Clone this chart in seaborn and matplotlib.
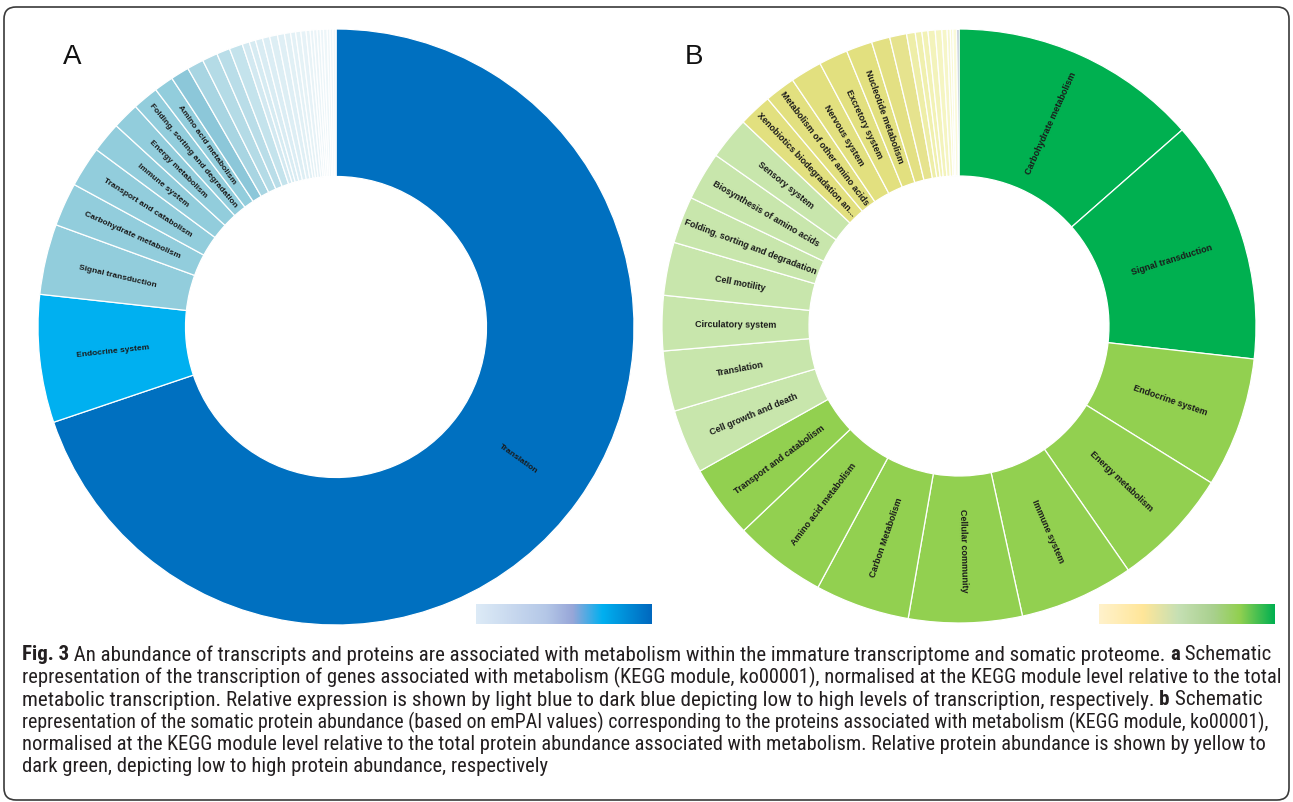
import numpy as np
import pandas as pd
import matplotlib
matplotlib.use("Agg")
import matplotlib.pyplot as plt
import seaborn as sns
from matplotlib.colors import LinearSegmentedColormap
from matplotlib.patches import FancyBboxPatch
from matplotlib.transforms import IdentityTransform
from matplotlib import font_manager

# ---------------- data ----------------
a_categories = ["Translation", "Endocrine system", "Signal transduction",
                "Carbohydrate metabolism", "Transport and catabolism",
                "Immune system", "Energy metabolism",
                "Folding, sorting and degradation", "Amino acid metabolism"] + [""] * 24
a_values = [69.5, 6.9, 3.8, 2.35, 2.2, 1.65, 1.45, 1.4, 1.05,
            1.0, 0.9, 0.83, 0.72, 0.72, 0.39, 0.34, 0.39, 0.39, 0.42, 0.38,
            0.33, 0.27, 0.28, 0.28, 0.22, 0.18, 0.19, 0.17, 0.17, 0.2, 0.15, 0.16, 0.16]
a_colors = ["#0070C0", "#00B0F0"] + ["#92CDDC"] * 7 + \
           ["#8CC7D9", "#A8D5E2", "#B4DBE6", "#B9DDE8", "#C4E3EC"] + \
           ["#D3E9F1", "#D6EBF2", "#D9ECF3", "#DBEDF4", "#DDEEF4", "#DFEFF5",
            "#E1F0F5", "#E3F1F6", "#E5F2F6", "#E6F2F7", "#E8F3F7", "#E9F4F8",
            "#EAF4F8", "#EBF5F8", "#ECF5F9", "#EDF6F9", "#EEF6F9", "#EFF7FA", "#F0F7FA"]

b_categories = ["Carbohydrate metabolism", "Signal transduction", "Endocrine system",
                "Energy metabolism", "Immune system", "Cellular community",
                "Carbon Metabolism", "Amino acid metabolism", "Transport and catabolism",
                "Cell growth and death", "Translation", "Circulatory system",
                "Cell motility", "Folding, sorting and degradation",
                "Biosynthesis of amino acids", "Sensory system",
                "Xenobiotics biodegradation an...", "Metabolism of other amino acids",
                "Nervous system", "Excretory system", "Nucleotide metabolism"] + [""] * 12
b_values = [13.53, 13.25, 7.08, 6.5, 6.22, 6.17, 5.14, 5.03, 3.97, 3.5, 3.28, 3.0,
            2.89, 2.56, 2.64, 2.31, 1.81, 1.67, 1.72, 1.58, 1.42, 1.0, 0.92,
            0.47, 0.36, 0.33, 0.39, 0.36, 0.28, 0.17, 0.14, 0.22, 0.11]
b_colors = ["#00B050"] * 2 + ["#92D050"] * 7 + ["#C8E6AC"] * 7 + ["#E2E07F"] * 5 + \
           ["#E3E083", "#E6E38E", "#EEEEA8", "#F0F0AE", "#F2F2B5", "#F3F3BB",
            "#F5F5C2", "#F6F6C8", "#F7F7CE", "#F8F8D3", "#FAFAD9", "#8497B0"]

cbar_a_colors = ["#DDEBF7", "#B4C7E7", "#97A6D8", "#00B0F0", "#0068BE"]
cbar_a_stops = [0.0, 0.4, 0.55, 0.72, 1.0]
cbar_b_colors = ["#FFF2CC", "#FFE699", "#C6E0B4", "#A9D08E", "#92D050", "#00B050"]
cbar_b_stops = [0.0, 0.25, 0.45, 0.65, 0.8, 1.0]

caption_lines = [
    [("Fig. 3", True), (" An abundance of transcripts and proteins are associated with metabolism within the immature transcriptome and somatic proteome. ", False), ("a", True), (" Schematic", False)],
    [("representation of the transcription of genes associated with metabolism (KEGG module, ko00001), normalised at the KEGG module level relative to the total", False)],
    [("metabolic transcription. Relative expression is shown by light blue to dark blue depicting low to high levels of transcription, respectively. ", False), ("b", True), (" Schematic", False)],
    [("representation of the somatic protein abundance (based on emPAI values) corresponding to the proteins associated with metabolism (KEGG module, ko00001),", False)],
    [("normalised at the KEGG module level relative to the total protein abundance associated with metabolism. Relative protein abundance is shown by yellow to", False)],
    [("dark green, depicting low to high protein abundance, respectively", False)],
]
caption_widths = [1245, 1243, 1229, 1244, 1232, 523]

# ---------------- style ----------------
sns.set_theme(style="white")
plt.rcParams["font.family"] = ["Liberation Sans", "DejaVu Sans"]

W, H = 1293, 803
fig = plt.figure(figsize=(W / 100, H / 100), dpi=100)
fig.patch.set_facecolor("white")


def px_axes(cx, cy, r):
    return fig.add_axes([(cx - r) / W, (H - cy - r) / H, 2 * r / W, 2 * r / H])


def donut(ax, df, colors, label_fs):
    pal = sns.color_palette(colors)
    wedges, _ = ax.pie(df["value"], colors=pal, startangle=90, counterclock=False,
                       radius=1.0,
                       wedgeprops=dict(width=0.495, edgecolor="white", linewidth=0.9))
    for w, name in zip(wedges, df["category"]):
        if not name:
            continue
        mid = 0.5 * (w.theta1 + w.theta2)
        mid = (mid + 180) % 360 - 180
        r = 0.752
        x, y = r * np.cos(np.deg2rad(mid)), r * np.sin(np.deg2rad(mid))
        rot = mid
        if rot > 90:
            rot -= 180
        elif rot < -90:
            rot += 180
        ax.text(x, y, name, rotation=rot, rotation_mode="anchor", ha="center",
                va="center", fontsize=label_fs, fontweight="bold", color="#1a1a1a")
    ax.set_xlim(-1, 1)
    ax.set_ylim(-1, 1)
    ax.set_aspect("equal")
    ax.axis("off")


df_a = pd.DataFrame({"category": a_categories, "value": a_values})
df_b = pd.DataFrame({"category": b_categories, "value": b_values})

ax_a = px_axes(336, 328, 298)
donut(ax_a, df_a, a_colors, 6.0)
ax_b = px_axes(959, 327, 297)
donut(ax_b, df_b, b_colors, 6.5)

fig.text(63 / W, 1 - 57 / H, "A", fontsize=20, va="center", ha="left", color="#111111")
fig.text(685 / W, 1 - 57 / H, "B", fontsize=20, va="center", ha="left", color="#111111")

# ---------------- colour bars ----------------
def gradient_bar(x0, colors, stops):
    cax = fig.add_axes([x0 / W, (H - 625) / H, 176 / W, 20 / H])
    cmap = LinearSegmentedColormap.from_list("g", list(zip(stops, colors)))
    cax.imshow(np.linspace(0, 1, 256)[None, :], aspect="auto", cmap=cmap,
               extent=[0, 1, 0, 1])
    cax.axis("off")

gradient_bar(476, cbar_a_colors, cbar_a_stops)
gradient_bar(1099, cbar_b_colors, cbar_b_stops)

# ---------------- caption ----------------
entries = font_manager.fontManager.ttflist


def has_regular(name, stretch=None):
    for f in entries:
        if f.name == name and f.style == "normal" and f.weight in (400, "normal", "regular"):
            if stretch is None or str(f.stretch) == stretch:
                return True
    return False

cap_family, cap_stretch = None, "normal"
for cand in ["Liberation Sans Narrow", "Roboto Condensed"]:
    if has_regular(cand):
        cap_family = cand
        break
if cap_family is None:
    if has_regular("DejaVu Sans", "condensed"):
        cap_family, cap_stretch = "DejaVu Sans", "condensed"
    else:
        cap_family = "Lato"

renderer = fig.canvas.get_renderer()


def draw_line(segments, x_px, y_px, fs, keep=True):
    x = x_px
    made = []
    for txt, bold in segments:
        t = fig.text(x / W, 1 - y_px / H, txt, fontsize=fs,
                     fontweight="bold" if bold else "normal",
                     family=[cap_family, "DejaVu Sans"], stretch=cap_stretch,
                     color="#231F20", va="center", ha="left")
        bb = t.get_window_extent(renderer)
        x += bb.width
        made.append(t)
    if not keep:
        for t in made:
            t.remove()
    return x - x_px

sizes = []
for seg, target in zip(caption_lines, caption_widths):
    trial = draw_line(seg, 22, 655, 10, keep=False)
    sizes.append(10 * target / trial)
base_fs = float(np.median(sizes[:5]))
for i, seg in enumerate(caption_lines):
    fs = min(sizes[i], base_fs) if i == 5 else sizes[i]
    draw_line(seg, 22, 655 + i * 22.4, fs)

# ---------------- frame ----------------
frame = FancyBboxPatch((4, 2), 1285, 793, boxstyle="round,pad=0,rounding_size=12",
                       transform=IdentityTransform(), fill=False,
                       edgecolor="#3a3a3a", linewidth=1.2)
fig.patches.append(frame)

fig.savefig("out.png", dpi=100)
